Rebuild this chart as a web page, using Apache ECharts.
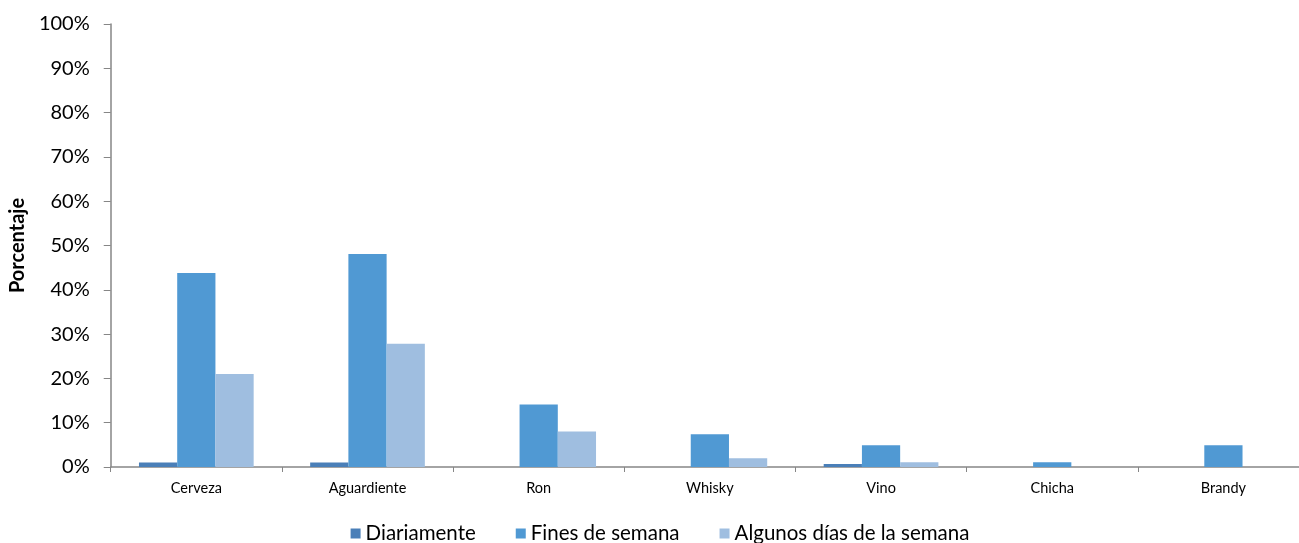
<!DOCTYPE html>
<html>
<head>
<meta charset="utf-8">
<script src="https://cdn.jsdelivr.net/npm/echarts@6/dist/echarts.min.js"></script>
<style>html,body{margin:0;padding:0;background:#fff;overflow:hidden;width:1299px;height:543px}#c{width:1320px;height:543px}</style>
</head>
<body>
<div id="c"></div>
<script>
var categories = ['Cerveza', 'Aguardiente', 'Ron', 'Whisky', 'Vino', 'Chicha', 'Brandy'];
var diariamente = [1.0, 1.0, 0, 0, 0.7, 0, 0];
var finesDeSemana = [43.8, 48.1, 14.1, 7.4, 4.9, 1.1, 4.9];
var algunosDias = [21.0, 27.8, 8.0, 2.0, 1.1, 0, 0];
var seriesNames = ['Diariamente', 'Fines de semana', 'Algunos días de la semana'];
var colors = ['#4a7fb8', '#5099d3', '#9fbee0'];

var chart = echarts.init(document.getElementById('c'));
var font = 'Lato, "Open Sans", sans-serif';
var axisColor = '#868686';
chart.setOption({
  animation: false,
  color: colors,
  grid: {left: 110, right: 11, top: 24, height: 443, containLabel: false},
  legend: {
    top: 518, left: 'center',
    itemWidth: 10, itemHeight: 10, itemGap: 40,
    icon: 'rect',
    textStyle: {fontFamily: font, fontSize: 20.5, color: '#000'},
    data: seriesNames
  },
  xAxis: {
    type: 'category', data: categories,
    axisLine: {lineStyle: {color: axisColor, width: 1.5}},
    axisTick: {show: true, length: 5, lineStyle: {color: axisColor}},
    axisLabel: {fontFamily: font, fontSize: 14.5, color: '#000', margin: 14}
  },
  yAxis: {
    type: 'value', min: 0, max: 100, interval: 10,
    name: 'Porcentaje', nameLocation: 'middle', nameGap: 82, nameRotate: 90,
    nameTextStyle: {fontFamily: font, fontSize: 20, fontWeight: 'bold', color: '#000'},
    axisLine: {show: true, lineStyle: {color: axisColor, width: 1.5}},
    axisTick: {show: true, length: 7, lineStyle: {color: axisColor}},
    splitLine: {show: false},
    axisLabel: {fontFamily: font, fontSize: 20, color: '#000', margin: 21, formatter: '{value}%'}
  },
  series: [
    {name: seriesNames[0], type: 'bar', data: diariamente, barGap: '0%', barCategoryGap: '33%'},
    {name: seriesNames[1], type: 'bar', data: finesDeSemana, barGap: '0%', barCategoryGap: '33%'},
    {name: seriesNames[2], type: 'bar', data: algunosDias, barGap: '0%', barCategoryGap: '33%'}
  ]
});
</script>
</body>
</html>
